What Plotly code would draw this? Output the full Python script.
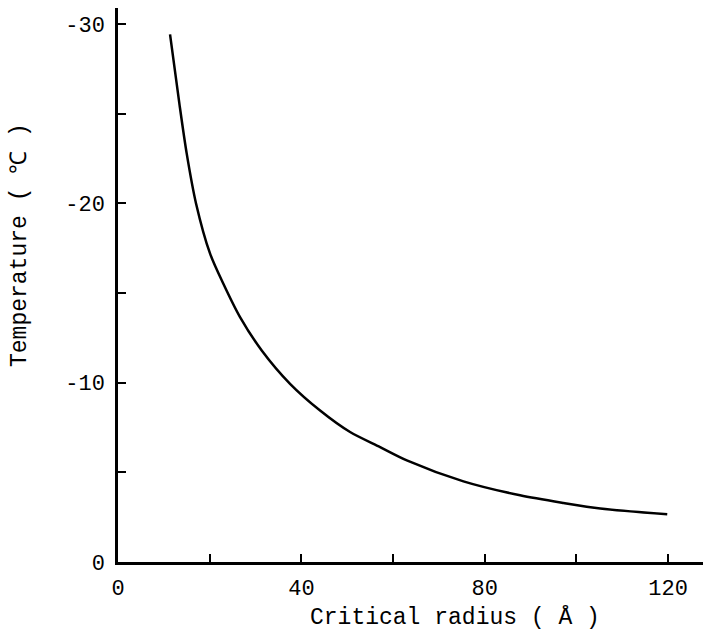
import plotly.graph_objects as go

radius = [11.35, 13.38, 14.98, 17.02, 20.07, 22.98, 26.62, 31.35, 37.53, 44.08, 50.62, 57.17, 62.99, 75.35, 87.7, 97.2, 105.2, 119.8]
temperature = [-29.43, -25.58, -22.79, -20.0, -17.21, -15.52, -13.66, -11.80, -9.94, -8.45, -7.25, -6.41, -5.67, -4.50, -3.72, -3.29, -2.98, -2.66]

x_tickvals = [0, 20, 40, 60, 80, 100, 120]
x_ticktext = ["0", "", "40", "", "80", "", "120"]
y_tickvals = [0, -5, -10, -15, -20, -25, -30]
y_ticktext = ["0", "", "-10", "", "-20", "", "-30"]

FONT = "Liberation Mono"

fig = go.Figure()
fig.add_trace(go.Scatter(x=radius, y=temperature, mode="lines",
                         line=dict(color="black", width=2.5, shape="spline", smoothing=0.8),
                         showlegend=False, hoverinfo="skip"))

fig.update_layout(
    width=704, height=633,
    margin=dict(l=118, r=1, t=8, b=71),
    paper_bgcolor="white", plot_bgcolor="white",
    font=dict(family=FONT, size=22, color="black"),
    xaxis=dict(range=[0, 127.6], showgrid=False, zeroline=False, automargin=False,
               showline=True, linecolor="black", linewidth=2.5,
               ticks="inside", ticklen=8, tickwidth=2, tickcolor="black",
               tickvals=x_tickvals, ticktext=x_ticktext,
               tickfont=dict(family=FONT, size=22), ticklabelstandoff=4),
    yaxis=dict(range=[0, -30.9], showgrid=False, zeroline=False, automargin=False,
               showline=True, linecolor="black", linewidth=2.5,
               ticks="inside", ticklen=8, tickwidth=2, tickcolor="black",
               tickvals=y_tickvals, ticktext=y_ticktext,
               tickfont=dict(family=FONT, size=22), ticklabelstandoff=6),
    annotations=[
        dict(text="Critical radius ( Å )", xref="paper", yref="paper",
             x=(455 - 118) / 585, y=-(617 - 562) / 554, xanchor="center", yanchor="middle",
             showarrow=False, font=dict(family=FONT, size=23)),
        dict(text="Temperature ( ℃ )", xref="paper", yref="paper",
             x=-(118 - 20) / 585, y=(562 - 245) / 554, xanchor="center", yanchor="middle",
             textangle=-90, showarrow=False, font=dict(family=FONT, size=23)),
    ],
)

fig.write_html("out.html", config={"displayModeBar": False},
               post_script="document.body.style.margin='0';")
